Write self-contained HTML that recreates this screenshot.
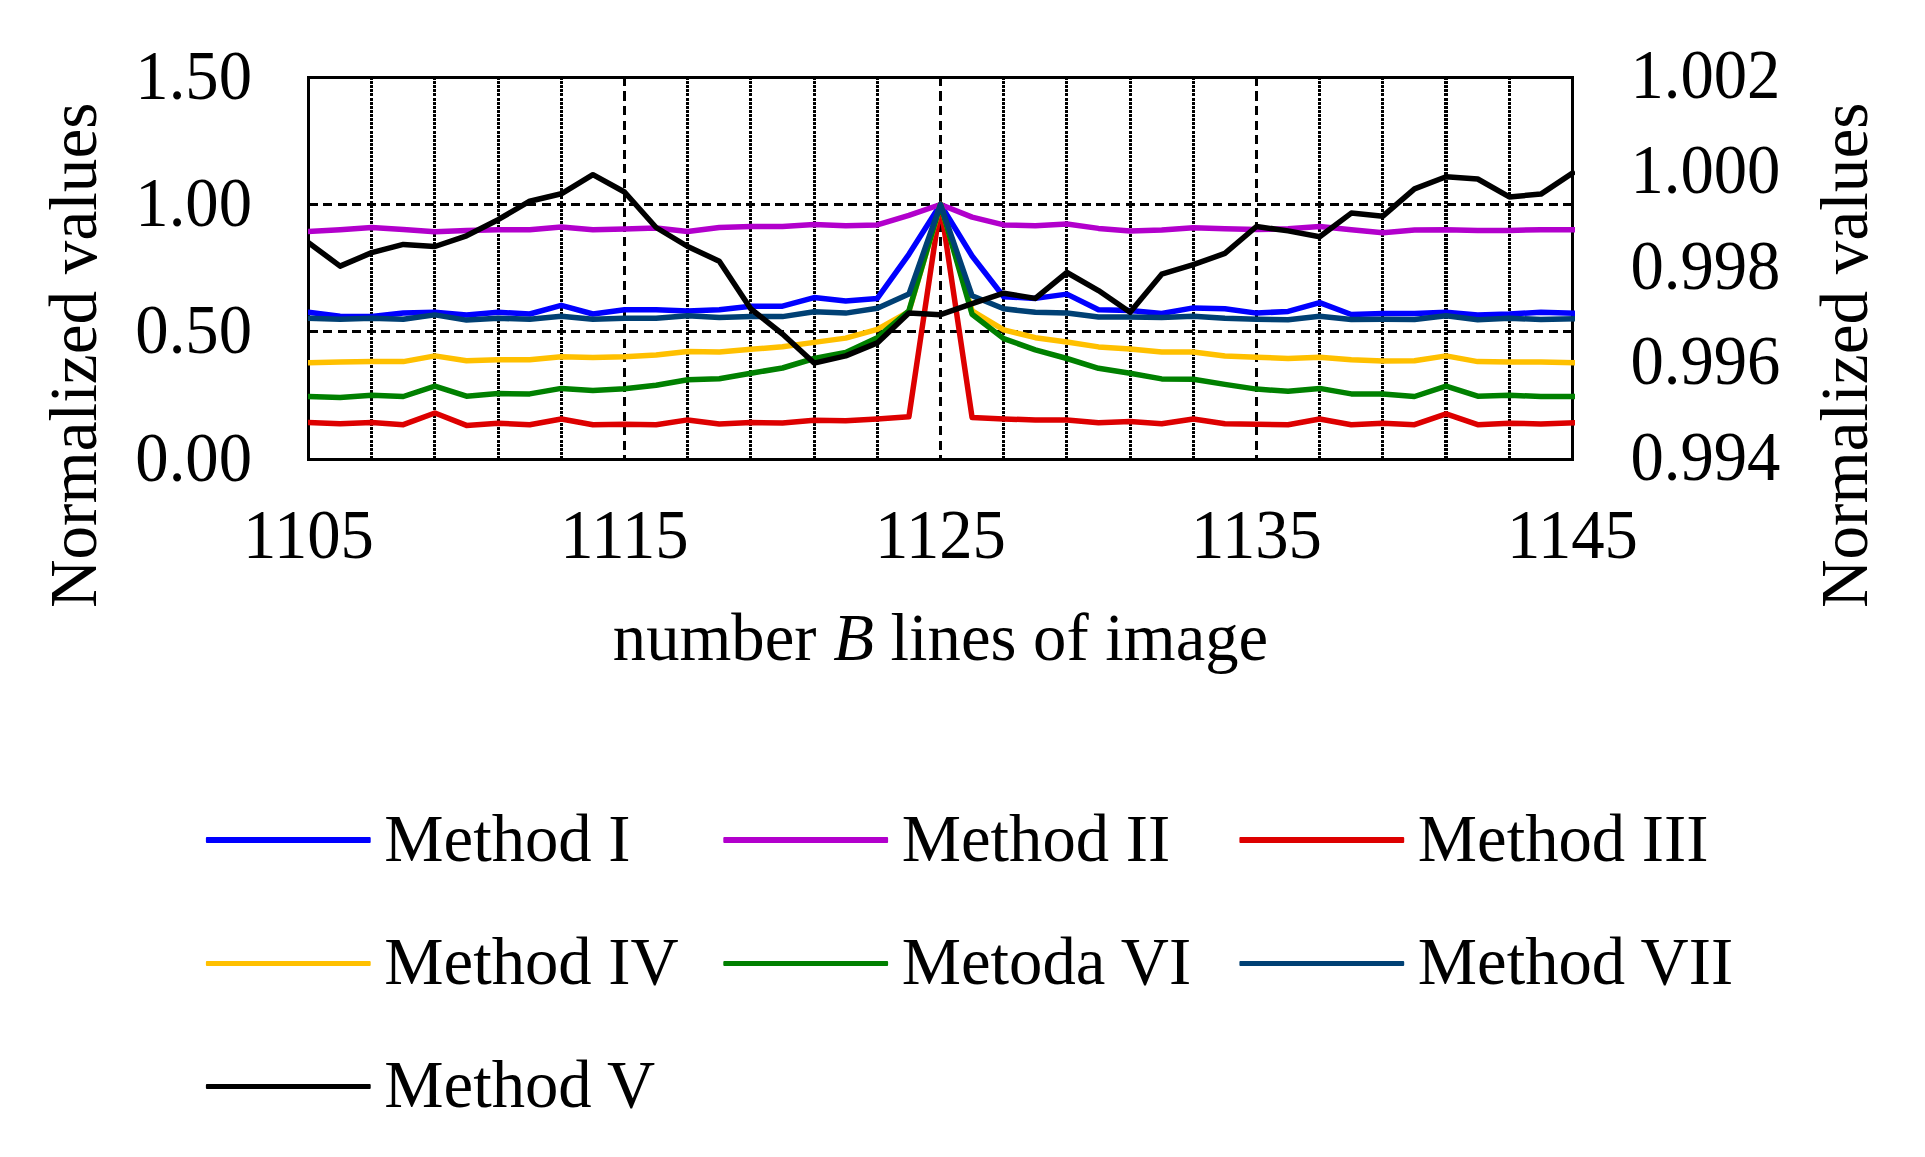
<!DOCTYPE html>
<html lang="en">
<head>
<meta charset="utf-8">
<title>Normalized values chart</title>
<style>
html,body{margin:0;padding:0;background:#ffffff;}
body{width:1925px;height:1157px;overflow:hidden;}
svg{display:block;}
text{font-family:"Liberation Serif","Times New Roman",serif;font-size:66.67px;fill:#000;}
.it{font-style:italic;}
</style>
</head>
<body>
<svg width="1925" height="1157" viewBox="0 0 1925 1157">
<rect x="0" y="0" width="1925" height="1157" fill="#ffffff"/>

<g stroke="#000" stroke-width="3" fill="none" shape-rendering="crispEdges">
<line x1="371.7" y1="77.0" x2="371.7" y2="459.5" stroke-width="3" stroke-dasharray="3 1.12"/>
<line x1="434.9" y1="77.0" x2="434.9" y2="459.5" stroke-width="3" stroke-dasharray="3 1.12"/>
<line x1="498.1" y1="77.0" x2="498.1" y2="459.5" stroke-width="3" stroke-dasharray="3 1.12"/>
<line x1="561.3" y1="77.0" x2="561.3" y2="459.5" stroke-width="3" stroke-dasharray="3 1.12"/>
<line x1="624.5" y1="76.9" x2="624.5" y2="459.5" stroke-dasharray="9.1 5.45"/>
<line x1="687.7" y1="77.0" x2="687.7" y2="459.5" stroke-width="3" stroke-dasharray="3 1.12"/>
<line x1="750.9" y1="77.0" x2="750.9" y2="459.5" stroke-width="3" stroke-dasharray="3 1.12"/>
<line x1="814.1" y1="77.0" x2="814.1" y2="459.5" stroke-width="3" stroke-dasharray="3 1.12"/>
<line x1="877.3" y1="77.0" x2="877.3" y2="459.5" stroke-width="3" stroke-dasharray="3 1.12"/>
<line x1="940.5" y1="76.9" x2="940.5" y2="459.5" stroke-dasharray="9.1 5.45"/>
<line x1="1003.7" y1="77.0" x2="1003.7" y2="459.5" stroke-width="3" stroke-dasharray="3 1.12"/>
<line x1="1066.9" y1="77.0" x2="1066.9" y2="459.5" stroke-width="3" stroke-dasharray="3 1.12"/>
<line x1="1130.1" y1="77.0" x2="1130.1" y2="459.5" stroke-width="3" stroke-dasharray="3 1.12"/>
<line x1="1193.3" y1="77.0" x2="1193.3" y2="459.5" stroke-width="3" stroke-dasharray="3 1.12"/>
<line x1="1256.5" y1="76.9" x2="1256.5" y2="459.5" stroke-dasharray="9.1 5.45"/>
<line x1="1319.7" y1="77.0" x2="1319.7" y2="459.5" stroke-width="3" stroke-dasharray="3 1.12"/>
<line x1="1382.9" y1="77.0" x2="1382.9" y2="459.5" stroke-width="3" stroke-dasharray="3 1.12"/>
<line x1="1446.1" y1="77.0" x2="1446.1" y2="459.5" stroke-width="4" stroke-dasharray="3 1.12"/>
<line x1="1509.3" y1="77.0" x2="1509.3" y2="459.5" stroke-width="3" stroke-dasharray="3 1.12"/>
<line x1="308.5" y1="204.5" x2="1572.5" y2="204.5" stroke-dasharray="9 5.59"/>
<line x1="308.5" y1="331.5" x2="1572.5" y2="331.5" stroke-dasharray="9 5.59"/>
</g>
<rect x="308.5" y="77.5" width="1264.0" height="382.0" fill="none" stroke="#000" stroke-width="3"/>
<clipPath id="pc"><rect x="308" y="70" width="1267" height="396"/></clipPath>
<g fill="none" stroke-width="5.5" stroke-linejoin="round" stroke-linecap="square" clip-path="url(#pc)">
<polyline stroke="#0000FF" points="308.5,312.3 340.1,316.2 371.7,316.6 403.3,313.1 434.9,312.3 466.5,314.9 498.1,312.3 529.7,314.0 561.3,305.3 592.9,314.0 624.5,309.7 656.1,309.7 687.7,311.1 719.3,309.7 750.9,306.2 782.5,306.2 814.1,297.6 845.7,301.0 877.3,298.4 908.9,254.3 940.5,204.5 972.1,256.0 1003.7,296.7 1035.3,298.4 1066.9,294.1 1098.5,309.7 1130.1,310.5 1161.7,313.5 1193.3,307.9 1224.9,308.8 1256.5,313.1 1288.1,311.4 1319.7,302.7 1351.3,314.5 1382.9,313.5 1414.5,313.5 1446.1,312.3 1477.7,314.9 1509.3,314.0 1540.9,312.3 1572.5,313.1"/>
<polyline stroke="#B200CC" points="308.5,231.5 340.1,229.7 371.7,227.5 403.3,229.6 434.9,231.8 466.5,230.6 498.1,229.7 529.7,229.7 561.3,227.0 592.9,229.7 624.5,228.9 656.1,228.0 687.7,231.5 719.3,227.5 750.9,226.6 782.5,226.6 814.1,224.5 845.7,225.8 877.3,224.9 908.9,215.4 940.5,204.5 972.1,217.1 1003.7,224.9 1035.3,225.8 1066.9,224.0 1098.5,228.4 1130.1,230.9 1161.7,230.1 1193.3,227.8 1224.9,228.7 1256.5,229.6 1288.1,228.7 1319.7,226.6 1351.3,229.7 1382.9,232.7 1414.5,230.1 1446.1,229.7 1477.7,230.4 1509.3,230.4 1540.9,229.7 1572.5,229.7"/>
<polyline stroke="#DD0000" points="308.5,422.5 340.1,423.7 371.7,422.5 403.3,424.7 434.9,413.0 466.5,425.4 498.1,423.3 529.7,424.7 561.3,419.0 592.9,424.7 624.5,424.2 656.1,424.7 687.7,419.9 719.3,423.9 750.9,422.5 782.5,423.0 814.1,420.2 845.7,420.7 877.3,419.0 908.9,416.8 940.5,204.5 972.1,417.6 1003.7,419.0 1035.3,419.9 1066.9,419.9 1098.5,422.8 1130.1,421.6 1161.7,423.7 1193.3,419.0 1224.9,423.7 1256.5,424.2 1288.1,424.7 1319.7,419.0 1351.3,424.7 1382.9,423.3 1414.5,424.7 1446.1,413.8 1477.7,424.7 1509.3,423.3 1540.9,423.9 1572.5,422.8"/>
<polyline stroke="#FFC000" points="308.5,362.8 340.1,361.9 371.7,361.6 403.3,361.6 434.9,355.9 466.5,360.7 498.1,359.8 529.7,359.8 561.3,356.7 592.9,357.6 624.5,356.7 656.1,354.9 687.7,351.6 719.3,351.9 750.9,349.3 782.5,346.7 814.1,342.4 845.7,338.1 877.3,329.4 908.9,311.7 940.5,204.5 972.1,310.9 1003.7,329.9 1035.3,337.7 1066.9,342.0 1098.5,346.9 1130.1,348.9 1161.7,351.9 1193.3,351.9 1224.9,355.9 1256.5,357.2 1288.1,358.5 1319.7,357.2 1351.3,359.7 1382.9,361.1 1414.5,360.7 1446.1,355.9 1477.7,361.6 1509.3,361.9 1540.9,361.9 1572.5,362.8"/>
<polyline stroke="#008000" points="308.5,396.5 340.1,397.4 371.7,395.3 403.3,396.5 434.9,386.1 466.5,396.2 498.1,393.6 529.7,393.9 561.3,388.4 592.9,390.5 624.5,388.7 656.1,385.3 687.7,379.7 719.3,378.7 750.9,373.2 782.5,368.0 814.1,358.5 845.7,352.4 877.3,337.7 908.9,310.9 940.5,204.5 972.1,314.3 1003.7,338.6 1035.3,349.8 1066.9,358.5 1098.5,368.3 1130.1,373.2 1161.7,378.9 1193.3,379.2 1224.9,384.4 1256.5,389.1 1288.1,391.3 1319.7,388.4 1351.3,393.9 1382.9,393.9 1414.5,396.5 1446.1,386.1 1477.7,396.2 1509.3,395.3 1540.9,396.5 1572.5,396.5"/>
<polyline stroke="#004074" points="308.5,318.3 340.1,319.2 371.7,318.3 403.3,319.2 434.9,314.9 466.5,320.1 498.1,318.3 529.7,319.2 561.3,316.2 592.9,319.2 624.5,318.3 656.1,318.3 687.7,315.7 719.3,317.5 750.9,316.6 782.5,316.6 814.1,311.7 845.7,313.1 877.3,308.3 908.9,294.1 940.5,204.5 972.1,295.8 1003.7,308.8 1035.3,312.3 1066.9,313.1 1098.5,316.9 1130.1,316.9 1161.7,317.5 1193.3,316.2 1224.9,318.3 1256.5,319.2 1288.1,319.7 1319.7,316.2 1351.3,319.5 1382.9,319.2 1414.5,319.5 1446.1,315.7 1477.7,319.7 1509.3,318.3 1540.9,319.5 1572.5,318.7"/>
<polyline stroke="#000000" points="308.5,242.7 340.1,266.1 371.7,252.6 403.3,244.4 434.9,246.5 466.5,235.8 498.1,219.7 529.7,201.2 561.3,193.8 592.9,174.7 624.5,192.0 656.1,227.5 687.7,246.5 719.3,261.2 750.9,309.0 782.5,334.0 814.1,363.1 845.7,355.9 877.3,342.9 908.9,313.0 940.5,314.7 972.1,303.6 1003.7,293.2 1035.3,298.4 1066.9,272.5 1098.5,290.6 1130.1,312.3 1161.7,274.2 1193.3,264.7 1224.9,253.4 1256.5,226.5 1288.1,230.9 1319.7,236.7 1351.3,213.1 1382.9,216.2 1414.5,188.9 1446.1,176.8 1477.7,179.0 1509.3,196.9 1540.9,194.1 1572.5,173.0"/>
</g>
<text transform="translate(252,98.5) scale(1,1.036)" text-anchor="end">1.50</text>
<text transform="translate(252,225.5) scale(1,1.036)" text-anchor="end">1.00</text>
<text transform="translate(252,353.0) scale(1,1.036)" text-anchor="end">0.50</text>
<text transform="translate(252,480.5) scale(1,1.036)" text-anchor="end">0.00</text>
<text transform="translate(1630.4,97.9) scale(1,1.036)">1.002</text>
<text transform="translate(1630.4,193.4) scale(1,1.036)">1.000</text>
<text transform="translate(1630.4,288.9) scale(1,1.036)">0.998</text>
<text transform="translate(1630.4,384.4) scale(1,1.036)">0.996</text>
<text transform="translate(1630.4,479.9) scale(1,1.036)">0.994</text>
<text transform="translate(308.5,557.9) scale(1,1.036)" text-anchor="middle">1105</text>
<text transform="translate(624.5,557.9) scale(1,1.036)" text-anchor="middle">1115</text>
<text transform="translate(940.5,557.9) scale(1,1.036)" text-anchor="middle">1125</text>
<text transform="translate(1256.5,557.9) scale(1,1.036)" text-anchor="middle">1135</text>
<text transform="translate(1572.5,557.9) scale(1,1.036)" text-anchor="middle">1145</text>
<text x="940.5" y="659.5" text-anchor="middle">number <tspan class="it">B</tspan> lines of image</text>
<text transform="translate(96.4,355.3) rotate(-90) scale(1.0076,1.03)" text-anchor="middle">Normalized values</text>
<text transform="translate(1867.4,355.3) rotate(-90) scale(1.0076,1.03)" text-anchor="middle">Normalized values</text>
<rect x="205.9" y="837" width="164.8" height="6" rx="1" fill="#0000FF"/>
<rect x="723.3" y="837" width="164.8" height="6" rx="1" fill="#B200CC"/>
<rect x="1239.4" y="837" width="164.8" height="6" rx="1" fill="#DD0000"/>
<rect x="205.9" y="961" width="164.8" height="5" rx="1" fill="#FFC000"/>
<rect x="723.3" y="961" width="164.8" height="5" rx="1" fill="#008000"/>
<rect x="1239.4" y="961" width="164.8" height="5" rx="1" fill="#004074"/>
<rect x="205.9" y="1084" width="164.8" height="5" rx="1" fill="#000000"/>
<text x="384.3" y="860.6">Method I</text>
<text x="901.7" y="860.6">Method II</text>
<text x="1417.8" y="860.6">Method III</text>
<text x="384.3" y="983.6">Method IV</text>
<text x="901.7" y="983.6">Metoda VI</text>
<text x="1417.8" y="983.6">Method VII</text>
<text x="384.3" y="1107.0">Method V</text>
</svg>
</body>
</html>
